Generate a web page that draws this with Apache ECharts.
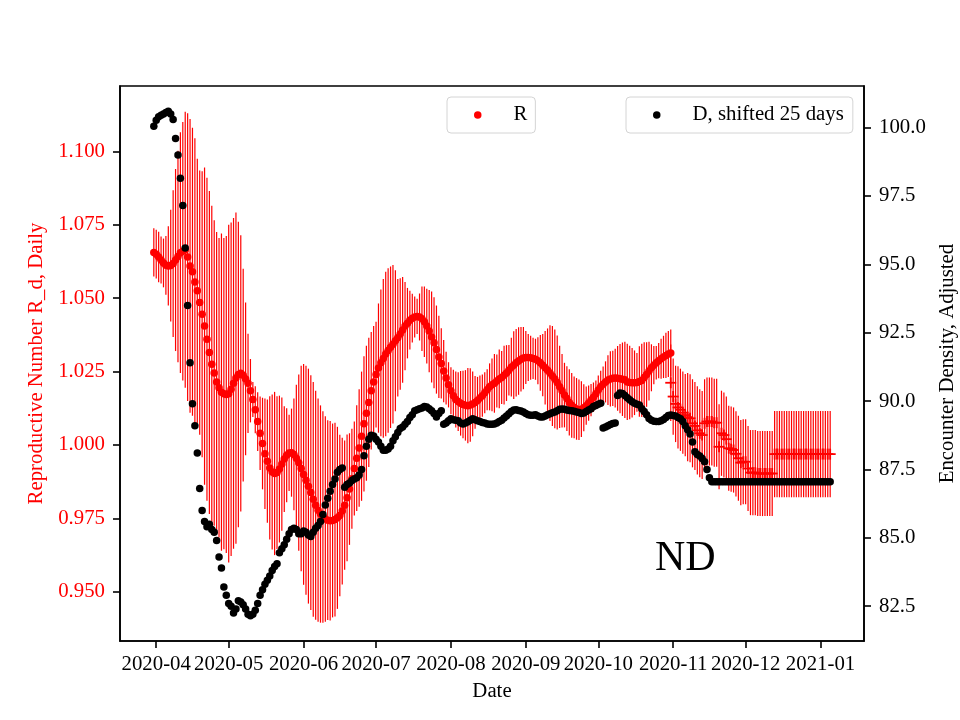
<!DOCTYPE html>
<html><head><meta charset="utf-8">
<script src="https://cdn.jsdelivr.net/npm/echarts@6/dist/echarts.min.js"></script>
<style>html,body{margin:0;padding:0;background:#fff}#c{width:960px;height:720px}</style>
</head><body><div id="c"></div>
<script>
// ---------- data ----------
const rDotsStart = '2020-03-31';   // daily, red dots
const rDots = [
1.0656,1.065,1.064,1.063,1.062,1.0612,1.061,1.0611,1.0618,1.063,
1.0642,1.0655,1.066,1.0665,1.064,1.061,1.059,1.0555,1.0525,1.0485,
1.0445,1.0405,1.036,1.0315,1.0275,1.0245,1.0215,1.0195,1.018,1.0175,
1.0172,1.0175,1.019,1.021,1.0228,1.024,1.0244,1.0238,1.0225,1.021,
1.0185,1.0155,1.012,1.008,1.004,1.0005,0.997,0.9945,0.9922,0.9908,
0.9903,0.9906,0.9918,0.9935,0.9952,0.9965,0.9973,0.9974,0.9968,0.9955,
0.994,0.992,0.99,0.988,0.986,0.9838,0.9815,0.9795,0.9778,0.9765,
0.9755,0.9748,0.9744,0.9742,0.9743,0.9746,0.9752,0.976,0.9775,0.9795,
0.982,0.985,0.9885,0.992,0.9955,0.999,1.003,1.0072,1.0108,1.0145,
1.0185,1.0215,1.024,1.0262,1.028,1.0295,1.031,1.0322,1.0333,1.0343,
1.0355,1.0365,1.0378,1.0392,1.0405,1.0415,1.0425,1.0432,1.0436,1.0438,
1.0436,1.043,1.042,1.0405,1.0388,1.0368,1.0348,1.0325,1.03,1.0278,
1.0252,1.0228,1.0205,1.0185,1.0168,1.0155,1.0148,1.0142,1.0138,1.0135,
1.0134,1.0136,1.014,1.0145,1.0152,1.016,1.0168,1.0178,1.0188,1.0198,
1.0205,1.021,1.0218,1.0225,1.023,1.0238,1.0245,1.0255,1.0265,1.0272,
1.028,1.0286,1.0292,1.0296,1.0298,1.0298,1.0297,1.0295,1.0292,1.0287,
1.028,1.0272,1.0263,1.0255,1.0245,1.0235,1.0225,1.0213,1.0198,1.0185,
1.017,1.0158,1.0145,1.0135,1.0128,1.0123,1.012,1.0122,1.0127,1.0134,
1.0143,1.0153,1.0163,1.0175,1.0187,1.0198,1.0207,1.0215,1.0221,1.0225,
1.0227,1.0228,1.0227,1.0226,1.0224,1.0222,1.0215,1.0213,1.0212,1.0212,
1.0213,1.0216,1.022,1.023,1.024,1.0252,1.0263,1.0272,1.028,1.0287,
1.0294,1.03,1.0305,1.031,1.0313];
const rDotsErr = [
0.0082,0.0083,0.0086,0.008,0.0083,0.010,0.0135,0.019,0.025,0.031,
0.036,0.041,0.044,0.047,0.049,0.050,0.049,0.049,0.045,0.045,
0.0487,0.054,0.055,0.055,0.054,0.052,0.051,0.051,0.054,0.053,
0.054,0.0575,0.0568,0.0563,0.0564,0.052,0.047,0.0362,0.026,0.0169,
0.0108,0.006,0.008,0.010,0.0125,0.0156,0.0188,0.021,0.0244,0.0264,
0.0278,0.026,0.025,0.0227,0.018,0.016,0.013,0.015,0.019,0.025,
0.030,0.035,0.0376,0.039,0.040,0.040,0.040,0.039,0.038,0.037,
0.036,0.035,0.034,0.034,0.033,0.033,0.031,0.0275,0.025,0.022,
0.0216,0.019,0.017,0.016,0.018,0.020,0.022,0.023,0.023,0.022,
0.020,0.019,0.018,0.022,0.025,0.027,0.028,0.028,0.0275,0.027,
0.024,0.020,0.019,0.018,0.015,0.012,0.010,0.0083,0.007,0.006,
0.008,0.011,0.012,0.0127,0.014,0.0155,0.0155,0.015,0.014,0.012,
0.0106,0.009,0.0077,0.008,0.0088,0.0095,0.010,0.011,0.0115,0.012,
0.0128,0.0125,0.011,0.009,0.008,0.0077,0.0072,0.007,0.007,0.008,
0.009,0.010,0.009,0.010,0.009,0.010,0.0095,0.0086,0.010,0.0115,
0.0115,0.0115,0.011,0.0106,0.009,0.008,0.0075,0.007,0.007,0.008,
0.0095,0.0106,0.0125,0.0142,0.0163,0.017,0.0168,0.016,0.014,0.0125,
0.011,0.011,0.0113,0.011,0.0105,0.0105,0.0103,0.0095,0.008,0.0065,
0.006,0.0055,0.005,0.0045,0.005,0.0055,0.006,0.007,0.0085,0.0094,
0.0094,0.010,0.011,0.0118,0.0125,0.013,0.013,0.0125,0.0118,0.011,
0.010,0.012,0.0125,0.012,0.011,0.010,0.008,0.0065,0.0057,0.006,
0.0068,0.0072,0.0077,0.0078,0.008];

const rPlusStart = '2020-10-31';   // daily, red "+" markers
const rPlus = [
1.0212,1.0165,1.014,1.0128,1.012,1.011,1.0102,1.0095,1.0091,1.0074,
1.0065,1.005,1.004,1.0034,1.0074,1.008,1.008,1.008,1.0076,1.0076,
0.9994,1.004,1.0034,1.002,0.9989,0.9986,0.9983,0.997,0.9955,0.994,
0.9943,0.9943,0.992,0.9906,0.9906,0.9906,0.9903,0.9903,0.9903,0.9903,
0.9903,0.9903,0.9903,0.9969,0.9969,0.9969,0.9969,0.9969,0.9969,0.9969,
0.9969,0.9969,0.9969,0.9969,0.9969,0.9969,0.9969,0.9969,0.9969,0.9969,
0.9969,0.9969,0.9969,0.9969,0.9969,0.9969,0.9969];
const rPlusErr = [
0.013,0.013,0.013,0.014,0.014,0.014,0.014,0.015,0.015,0.015,
0.015,0.015,0.015,0.015,0.015,0.015,0.015,0.015,0.015,0.015,
0.0145,0.0145,0.0145,0.0145,0.0145,0.0145,0.0145,0.0145,0.0145,0.0145,
0.0145,0.0145,0.0145,0.0145,0.0145,0.0145,0.0145,0.0145,0.0145,0.0145,
0.0145,0.0145,0.0145,0.0147,0.0147,0.0147,0.0147,0.0147,0.0147,0.0147,
0.0147,0.0147,0.0147,0.0147,0.0147,0.0147,0.0147,0.0147,0.0147,0.0147,
0.0147,0.0147,0.0147,0.0147,0.0147,0.0147,0.0147];

const dStart = '2020-03-31';   // daily, black dots (right axis)
const dValues = [
100.05,100.27,100.4,100.45,100.5,100.55,100.6,100.5,100.3,99.6,
99.0,98.15,97.15,95.6,93.5,91.4,89.9,89.1,88.1,86.8,
86.0,85.6,85.4,85.5,85.3,85.2,84.9,84.3,83.9,83.2,
82.9,82.6,82.5,82.25,82.4,82.7,82.65,82.55,82.4,82.2,
82.15,82.2,82.35,82.6,82.9,83.1,83.3,83.45,83.6,83.8,
83.95,84.05,84.45,84.6,84.75,84.95,85.15,85.3,85.35,85.3,
85.15,85.15,85.25,85.2,85.1,85.05,85.2,85.35,85.45,85.6,
85.85,86.2,86.45,86.7,86.95,87.15,87.4,87.5,87.55,86.85,
86.95,87.0,87.1,87.15,87.2,87.3,87.5,88.0,88.35,88.6,
88.75,88.72,88.6,88.5,88.35,88.2,88.2,88.25,88.35,88.55,
88.7,88.85,89.0,89.05,89.15,89.25,89.4,89.5,89.65,89.68,
89.72,89.75,89.8,89.78,89.72,89.65,89.55,89.42,89.55,89.65,
89.15,89.2,89.28,89.35,89.32,89.3,89.28,89.2,89.16,89.2,
89.24,89.3,89.35,89.32,89.28,89.25,89.22,89.2,89.16,89.15,
89.15,89.16,89.2,89.25,89.3,89.38,89.45,89.54,89.62,89.67,
89.68,89.66,89.64,89.6,89.55,89.5,89.48,89.48,89.5,89.45,
89.42,89.42,89.45,89.5,89.54,89.57,89.6,89.65,89.7,89.71,
89.7,89.67,89.66,89.65,89.63,89.6,89.58,89.55,89.56,89.62,
89.67,89.72,89.8,89.84,89.88,89.92,89.02,89.05,89.1,89.14,
89.18,89.2,90.2,90.3,90.28,90.2,90.12,90.05,89.98,89.92,
89.88,89.86,89.72,89.62,89.5,89.36,89.3,89.26,89.25,89.25,
89.28,89.33,89.4,89.47,89.49,89.47,89.45,89.4,89.35,89.25,
89.1,88.95,88.8,88.5,88.15,88.05,87.99,87.9,87.78,87.5,
87.2,87.05,87.05,87.05,87.05,87.05,87.05,87.05,87.05,87.05,
87.05,87.05,87.05,87.05,87.05,87.05,87.05,87.05,87.05,87.05,
87.05,87.05,87.05,87.05,87.05,87.05,87.05,87.05,87.05,87.05,
87.05,87.05,87.05,87.05,87.05,87.05,87.05,87.05,87.05,87.05,
87.05,87.05,87.05,87.05,87.05,87.05,87.05,87.05,87.05,87.05,
87.05];

const xTickLabels = ['2020-04','2020-05','2020-06','2020-07','2020-08','2020-09','2020-10','2020-11','2020-12','2021-01'];
const yLeftTicks = [0.950, 0.975, 1.000, 1.025, 1.050, 1.075, 1.100];
const yRightTicks = [82.5, 85.0, 87.5, 90.0, 92.5, 95.0, 97.5, 100.0];

// ---------- helpers ----------
function dayTs(startStr, i) {
  const p = startStr.split('-').map(Number);
  return Date.UTC(p[0], p[1] - 1, p[2] + i);
}
function monthTs(lbl) {
  const p = lbl.split('-').map(Number);
  return Date.UTC(p[0], p[1] - 1, 1);
}
const FONT = '"Liberation Serif", "Times New Roman", Times, serif';
const FS = 20.8;
const RED = '#ff0000';

const xTickValues = xTickLabels.map(monthTs);

const rDotData = rDots.map((v, i) => [dayTs(rDotsStart, i), v]);
const rDotErrData = rDots.map((v, i) => [dayTs(rDotsStart, i), v - rDotsErr[i], v + rDotsErr[i]]);
const rPlusData = rPlus.map((v, i) => [dayTs(rPlusStart, i), v]);
const rPlusErrData = rPlus.map((v, i) => [dayTs(rPlusStart, i), v - rPlusErr[i], v + rPlusErr[i]]);
const dData = dValues.map((v, i) => [dayTs(dStart, i), v]);

function errRender(params, api) {
  const p1 = api.coord([api.value(0), api.value(1)]);
  const p2 = api.coord([api.value(0), api.value(2)]);
  return { type: 'line', shape: { x1: p1[0], y1: p1[1], x2: p2[0], y2: p2[1] },
           style: { stroke: RED, lineWidth: 1.2 } };
}
function plusRender(params, api) {
  const p = api.coord([api.value(0), api.value(1)]);
  const s = 5.5;
  return { type: 'group', children: [
    { type: 'line', shape: { x1: p[0] - s, y1: p[1], x2: p[0] + s, y2: p[1] }, style: { stroke: RED, lineWidth: 1.8 } },
    { type: 'line', shape: { x1: p[0], y1: p[1] - s, x2: p[0], y2: p[1] + s }, style: { stroke: RED, lineWidth: 1.8 } }
  ]};
}

const legendCommon = {
  orient: 'horizontal', icon: 'circle', itemWidth: 7.5, itemHeight: 7.5,
  backgroundColor: '#fff', borderColor: '#d4d4d4', borderWidth: 1, borderRadius: 4,
  selectedMode: false, top: 97,
  textStyle: { fontFamily: FONT, fontSize: FS, color: '#000', padding: [0, 0, 0, 27], lineHeight: 22 }
};

const chart = echarts.init(document.getElementById('c'), null, { renderer: 'canvas' });
chart.setOption({
  animation: false,
  backgroundColor: '#fff',
  textStyle: { fontFamily: FONT },
  grid: { left: 120, right: 96, top: 86, bottom: 79, containLabel: false, outerBoundsMode: 'none',
          show: true, borderColor: '#000', borderWidth: 1.6, backgroundColor: 'transparent' },
  legend: [
    Object.assign({}, legendCommon, { data: ['R'], left: 447, padding: [7, 8, 7, 27] }),
    Object.assign({}, legendCommon, { data: ['D, shifted 25 days'], left: 626, padding: [7, 9, 7, 27] })
  ],
  xAxis: {
    type: 'value',
    min: dayTs('2020-04-01', -15), max: dayTs('2020-04-01', 293),
    name: 'Date', nameLocation: 'middle', nameGap: 40,
    nameTextStyle: { fontFamily: FONT, fontSize: FS, color: '#000' },
    axisLine: { show: true, onZero: false, lineStyle: { color: '#000', width: 1.6 } },
    axisTick: { show: true, length: 7, lineStyle: { color: '#000', width: 1.6 }, customValues: xTickValues },
    axisLabel: { show: true, margin: 13, fontFamily: FONT, fontSize: FS, color: '#000', customValues: xTickValues,
      formatter: function (v) { const i = xTickValues.indexOf(v); return i >= 0 ? xTickLabels[i] : ''; } },
    splitLine: { show: false }, minorTick: { show: false }
  },
  yAxis: [
    {
      type: 'value', position: 'left', min: 0.93326, max: 1.12226,
      name: 'Reproductive Number R_d, Daily', nameLocation: 'middle', nameGap: 70, nameRotate: 90,
      nameTextStyle: { fontFamily: FONT, fontSize: FS, color: RED },
      axisLine: { show: true, onZero: false, lineStyle: { color: '#000', width: 1.6 } },
      axisTick: { show: true, length: 7, lineStyle: { color: '#000', width: 1.6 }, customValues: yLeftTicks },
      axisLabel: { show: true, margin: 15, fontFamily: FONT, fontSize: FS, color: RED, customValues: yLeftTicks,
        formatter: v => Number(v).toFixed(3) },
      splitLine: { show: false }
    },
    {
      type: 'value', position: 'right', min: 81.226, max: 101.523,
      name: 'Encounter Density, Adjusted', nameLocation: 'middle', nameGap: 65, nameRotate: 90,
      nameTextStyle: { fontFamily: FONT, fontSize: FS, color: '#000' },
      axisLine: { show: true, onZero: false, lineStyle: { color: '#000', width: 1.6 } },
      axisTick: { show: true, length: 7, lineStyle: { color: '#000', width: 1.6 }, customValues: yRightTicks },
      axisLabel: { show: true, margin: 15, fontFamily: FONT, fontSize: FS, color: '#000', customValues: yRightTicks,
        formatter: v => Number(v).toFixed(1) },
      splitLine: { show: false }
    }
  ],
  graphic: [{
    type: 'text', left: 655, top: 538, z: 100,
    style: { text: 'ND', font: '42px ' + FONT, fill: '#000' }
  }],
  series: [
    { type: 'custom', name: 'R_err', yAxisIndex: 0, z: 1, silent: true, clip: true,
      data: rDotErrData, encode: { x: 0, y: [1, 2] }, renderItem: errRender },
    { type: 'custom', name: 'R_plus_err', yAxisIndex: 0, z: 1, silent: true, clip: true,
      data: rPlusErrData, encode: { x: 0, y: [1, 2] }, renderItem: errRender },
    { type: 'scatter', name: 'R', yAxisIndex: 0, z: 2, silent: true, symbol: 'circle', symbolSize: 7.5,
      itemStyle: { color: RED, opacity: 1 }, data: rDotData },
    { type: 'custom', name: 'R_plus', yAxisIndex: 0, z: 2, silent: true, clip: true,
      data: rPlusData, encode: { x: 0, y: 1 }, renderItem: plusRender },
    { type: 'scatter', name: 'D, shifted 25 days', yAxisIndex: 1, z: 3, silent: true, symbol: 'circle', symbolSize: 7.5,
      itemStyle: { color: '#000', opacity: 1 }, data: dData }
  ]
});
</script>
</body></html>
